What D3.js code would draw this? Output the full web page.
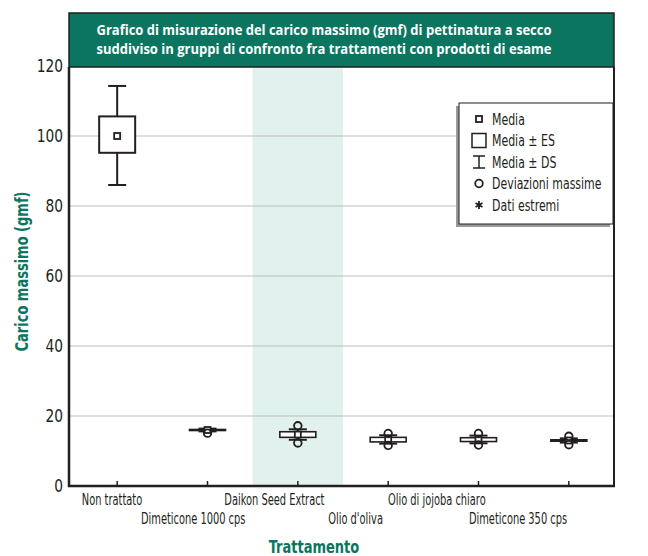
<!DOCTYPE html>
<html>
<head>
<meta charset="utf-8">
<script src="https://cdn.jsdelivr.net/npm/d3@7"></script>
<style>
  body { margin: 0; background: #fff; }
  text { font-family: "Liberation Sans Narrow", "DejaVu Sans Condensed", "Open Sans", sans-serif; }
</style>
</head>
<body>
<div id="chart"></div>
<script>
// categorie e valori
let categories = ["Non trattato", "Dimeticone 1000 cps", "Daikon Seed Extract", "Olio d'oliva", "Olio di jojoba chiaro", "Dimeticone 350 cps"]
let means  = [100.0, 16.0, 14.7, 13.3, 13.3, 13.0]
let seLow  = [95.2, 15.85, 13.9, 12.6, 12.7, 12.8]
let seHigh = [105.6, 16.15, 15.5, 13.9, 13.8, 13.2]
let sdLow  = [86.0, 15.6, 13.2, 12.1, 12.2, 12.4]
let sdHigh = [114.3, 16.4, 16.2, 14.5, 14.4, 13.6]
let devMin = [null, 15.1, 12.3, 11.6, 11.7, 11.8]
let devMax = [null, null, 17.2, 15.0, 15.0, 14.2]
let yTicks = [0, 20, 40, 60, 80, 100, 120]
let highlighted = "Daikon Seed Extract"
let titleLines = ["Grafico di misurazione del carico massimo (gmf) di pettinatura a secco",
                  "suddiviso in gruppi di confronto fra trattamenti con prodotti di esame"]
let legendItems = ["Media", "Media \u00b1 ES", "Media \u00b1 DS", "Deviazioni massime", "Dati estremi"]

let green = "#0b7560", dark = "#231f20"
let width = 648, height = 556
let plot = { left: 69, right: 614, top: 67, bottom: 486 }

let data = categories.map((c, i) => ({
    name: c, mean: means[i], seLow: seLow[i], seHigh: seHigh[i],
    sdLow: sdLow[i], sdHigh: sdHigh[i], devMin: devMin[i], devMax: devMax[i]
}))

//restringe il testo (il font condensato non c'è)
function condense(sel, f) {
    sel.each(function () {
        let w = this.getComputedTextLength()
        d3.select(this).attr("textLength", w * f).attr("lengthAdjust", "spacingAndGlyphs")
    })
}

let svg = d3.select("#chart").append("svg")
    .attr("width", width)
    .attr("height", height)

let x = d3.scaleBand().domain(categories).range([72, 614])
let labelX = d3.scalePoint().domain(categories).range([112, 518])
let y = d3.scaleLinear().domain([0, 120]).range([plot.bottom, plot.top - 1])

//banda evidenziata
svg.append("rect")
    .attr("x", x(highlighted))
    .attr("y", plot.top)
    .attr("width", x.bandwidth())
    .attr("height", plot.bottom - plot.top)
    .attr("fill", "#e1f1ee")

//griglia
svg.selectAll(".grid")
    .data(yTicks.filter(d => d > 0 && d < 120))
    .enter()
    .append("line")
    .attr("class", "grid")
    .attr("x1", plot.left)
    .attr("x2", plot.right)
    .attr("y1", d => y(d))
    .attr("y2", d => y(d))
    .attr("stroke", "#bdbdbd")
    .attr("stroke-width", 1)

//etichette asse y
let ylabs = svg.selectAll(".ylab")
    .data(yTicks)
    .enter()
    .append("text")
    .attr("class", "ylab")
    .attr("x", 63)
    .attr("y", d => y(d))
    .attr("dy", "0.36em")
    .attr("text-anchor", "end")
    .attr("font-size", 17)
    .attr("fill", dark)
    .text(d => d)
condense(ylabs, 0.9)

//tacche asse x
svg.selectAll(".xtick")
    .data(categories)
    .enter()
    .append("line")
    .attr("x1", d => x(d) + x.bandwidth() / 2)
    .attr("x2", d => x(d) + x.bandwidth() / 2)
    .attr("y1", plot.bottom)
    .attr("y2", plot.bottom - 5)
    .attr("stroke", dark)
    .attr("stroke-width", 1.5)

//etichette categorie, su due righe alternate
let xlabs = svg.selectAll(".xlab")
    .data(categories)
    .enter()
    .append("text")
    .attr("x", d => labelX(d))
    .attr("y", (d, i) => i % 2 === 0 ? 505 : 524)
    .attr("text-anchor", "middle")
    .attr("font-size", 15)
    .attr("fill", dark)
    .text(d => d)
condense(xlabs, 0.73)

//cornice
svg.append("line")
    .attr("x1", plot.left).attr("x2", plot.left)
    .attr("y1", plot.top).attr("y2", plot.bottom + 1)
    .attr("stroke", dark).attr("stroke-width", 2.5)
svg.append("line")
    .attr("x1", plot.right).attr("x2", plot.right)
    .attr("y1", plot.top).attr("y2", plot.bottom + 1)
    .attr("stroke", dark).attr("stroke-width", 2)
svg.append("line")
    .attr("x1", plot.left - 1).attr("x2", plot.right + 1)
    .attr("y1", plot.bottom).attr("y2", plot.bottom)
    .attr("stroke", dark).attr("stroke-width", 2.5)

//box plot
let boxW = 36, capW = 18
let groups = svg.selectAll(".box")
    .data(data)
    .enter()
    .append("g")
    .attr("class", "box")
    .attr("transform", d => "translate(" + (x(d.name) + x.bandwidth() / 2) + ",0)")

groups.append("line")
    .attr("x1", 0).attr("x2", 0)
    .attr("y1", d => y(d.sdLow)).attr("y2", d => y(d.sdHigh))
    .attr("stroke", dark).attr("stroke-width", 2)
groups.append("line")
    .attr("x1", -capW / 2).attr("x2", capW / 2)
    .attr("y1", d => y(d.sdLow)).attr("y2", d => y(d.sdLow))
    .attr("stroke", dark).attr("stroke-width", 2)
groups.append("line")
    .attr("x1", -capW / 2).attr("x2", capW / 2)
    .attr("y1", d => y(d.sdHigh)).attr("y2", d => y(d.sdHigh))
    .attr("stroke", dark).attr("stroke-width", 2)
groups.append("rect")
    .attr("x", -boxW / 2)
    .attr("width", boxW)
    .attr("y", d => y(d.seHigh))
    .attr("height", d => Math.max(0.5, y(d.seLow) - y(d.seHigh)))
    .attr("fill", "#fff")
    .attr("stroke", dark)
    .attr("stroke-width", d => d.mean > 50 ? 2 : 1.6)
groups.append("rect")
    .attr("x", -3)
    .attr("y", d => y(d.mean) - 3)
    .attr("width", 6)
    .attr("height", 6)
    .attr("fill", "#fff")
    .attr("stroke", dark)
    .attr("stroke-width", 1.8)

groups.selectAll(".dev")
    .data(d => [d.devMin, d.devMax].filter(v => v !== null))
    .enter()
    .append("circle")
    .attr("cx", 0)
    .attr("cy", d => y(d))
    .attr("r", 3.8)
    .attr("fill", "none")
    .attr("stroke", dark)
    .attr("stroke-width", 1.8)

//titolo
svg.append("rect")
    .attr("x", plot.left)
    .attr("y", 13)
    .attr("width", plot.right - plot.left)
    .attr("height", plot.top - 13)
    .attr("fill", green)
    .attr("stroke", dark)
    .attr("stroke-width", 1.5)
svg.selectAll(".title")
    .data(titleLines)
    .enter()
    .append("text")
    .attr("x", 324)
    .attr("y", (d, i) => 35 + i * 19)
    .attr("text-anchor", "middle")
    .attr("font-size", 14.5)
    .attr("font-weight", "bold")
    .attr("fill", "#fff")
    .attr("textLength", 455)
    .attr("lengthAdjust", "spacingAndGlyphs")
    .style("font-family", "'Open Sans', sans-serif")
    .text(d => d)

//titoli assi
let yTitle = svg.append("text")
    .attr("transform", "translate(28," + ((plot.top + plot.bottom) / 2 - 5) + ") rotate(-90)")
    .attr("text-anchor", "middle")
    .attr("font-size", 17)
    .attr("font-weight", "bold")
    .attr("fill", green)
    .text("Carico massimo (gmf)")
condense(yTitle, 0.85)
let xTitle = svg.append("text")
    .attr("x", 314)
    .attr("y", 553)
    .attr("text-anchor", "middle")
    .attr("font-size", 17)
    .attr("font-weight", "bold")
    .attr("fill", green)
    .text("Trattamento")
condense(xTitle, 0.85)

//legenda
let lg = svg.append("g").attr("transform", "translate(459,103)")
let lgW = 154, lgH = 121
lg.append("rect")
    .attr("x", -3).attr("y", 3)
    .attr("width", lgW).attr("height", lgH)
    .attr("fill", "#9a9a9a")
lg.append("rect")
    .attr("width", lgW).attr("height", lgH)
    .attr("fill", "#fff")
    .attr("stroke", dark)
    .attr("stroke-width", 1)

let rowY = i => 16 + i * 21.5
let symX = 20
lg.append("rect").attr("x", symX - 3).attr("y", rowY(0) - 3).attr("width", 6).attr("height", 6)
    .attr("fill", "none").attr("stroke", dark).attr("stroke-width", 1.8)
lg.append("rect").attr("x", symX - 7).attr("y", rowY(1) - 7).attr("width", 14).attr("height", 14)
    .attr("fill", "none").attr("stroke", dark).attr("stroke-width", 1.5)
lg.append("path")
    .attr("d", "M" + (symX - 6) + "," + (rowY(2) - 6) + "h12M" + symX + "," + (rowY(2) - 6) + "v12M" + (symX - 6) + "," + (rowY(2) + 6) + "h12")
    .attr("stroke", dark).attr("stroke-width", 1.5).attr("fill", "none")
lg.append("circle").attr("cx", symX).attr("cy", rowY(3)).attr("r", 3.8)
    .attr("fill", "none").attr("stroke", dark).attr("stroke-width", 1.8)
lg.append("path")
    .attr("d", d3.symbol().type(d3.symbolAsterisk).size(45)())
    .attr("transform", "translate(" + symX + "," + rowY(4) + ")")
    .attr("stroke", dark).attr("stroke-width", 1.8)

let lgText = lg.selectAll(".lgtext")
    .data(legendItems)
    .enter()
    .append("text")
    .attr("x", 33)
    .attr("y", (d, i) => rowY(i))
    .attr("dy", "0.36em")
    .attr("font-size", 16)
    .attr("fill", dark)
    .text(d => d)
condense(lgText, 0.76)
</script>
</body>
</html>
